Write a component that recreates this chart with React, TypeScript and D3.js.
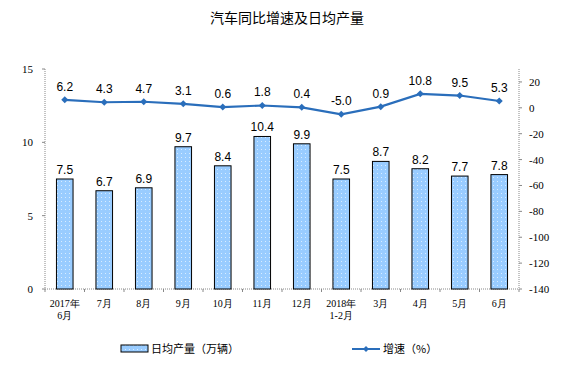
import React from "react";
import * as d3 from "d3";

const categories = ["2017年|6月", "7月", "8月", "9月", "10月", "11月", "12月", "2018年|1-2月", "3月", "4月", "5月", "6月"];
const dailyOutput = [7.5, 6.7, 6.9, 9.7, 8.4, 10.4, 9.9, 7.5, 8.7, 8.2, 7.7, 7.8];
const growth = [6.2, 4.3, 4.7, 3.1, 0.6, 1.8, 0.4, -5.0, 0.9, 10.8, 9.5, 5.3];
const leftTicks = [0, 5, 10, 15];
const rightTicks = [20, 0, -20, -40, -60, -80, -100, -120, -140];

const W = 575, H = 369;
const L = 45, R = 519, T = 69, B = 289;

export default function App() {
  const x = d3.scaleBand<number>().domain(d3.range(categories.length)).range([L, R]);
  const yL = d3.scaleLinear().domain([0, 15]).range([B, T]);
  const yR = d3.scaleLinear().domain([-140, 30]).range([B, T]);
  const bw = x.bandwidth() * 0.42;
  const cx = (i: number) => (x(i) as number) + x.bandwidth() / 2;
  const line = d3.line<number>().x((_, i) => cx(i)).y((d) => yR(d));
  const serif = "'Liberation Serif', 'Times New Roman', serif";
  const sans = "'Liberation Sans', Arial, sans-serif";
  const cjk = "'Noto Sans CJK SC', sans-serif";
  const lineColor = "#2a6ebb";
  const diamond = (px: number, py: number, s = 3.5) =>
    `M${px},${py - s}L${px + s},${py}L${px},${py + s}L${px - s},${py}Z`;

  return (
    <svg width={W} height={H} style={{ position: "absolute", left: 0, top: 0, background: "#fff" }}>
      <defs>
        <pattern id="dots" width="4" height="4" patternUnits="userSpaceOnUse">
          <rect width="4" height="4" fill="#99ccff" />
          <rect x="1" y="1" width="1" height="1" fill="#d8ecff" />
        </pattern>
      </defs>
      <text x={287} y={23} textAnchor="middle" fontFamily={cjk} fontSize={14} fill="#000">汽车同比增速及日均产量</text>

      {/* axes */}
      <line x1={L} x2={L} y1={T} y2={B} stroke="#888" strokeDasharray="1,1" />
      <line x1={R} x2={R} y1={T} y2={B} stroke="#888" strokeDasharray="1,1" />
      <line x1={L} x2={R} y1={B} y2={B} stroke="#888" strokeDasharray="1,1" />
      {leftTicks.map((t) => (
        <g key={"l" + t}>
          <line x1={L - 3} x2={L} y1={yL(t)} y2={yL(t)} stroke="#888" />
          <text x={33} y={yL(t) + 4} textAnchor="end" fontFamily={serif} fontSize={11}>{t}</text>
        </g>
      ))}
      {rightTicks.map((t) => (
        <g key={"r" + t}>
          <line x1={R} x2={R + 3} y1={yR(t)} y2={yR(t)} stroke="#888" />
          <text x={529} y={yR(t) + 4} textAnchor="start" fontFamily={serif} fontSize={11}>{t}</text>
        </g>
      ))}
      {d3.range(categories.length + 1).map((i) => {
        const xx = L + i * x.step();
        return <line key={"xt" + i} x1={xx} x2={xx} y1={B} y2={B + 3} stroke="#888" />;
      })}

      {/* bars */}
      {dailyOutput.map((v, i) => (
        <g key={"b" + i}>
          <rect x={cx(i) - bw / 2} y={yL(v)} width={bw} height={B - yL(v)} fill="url(#dots)" stroke="#000" strokeWidth={1} />
          <text x={cx(i)} y={yL(v) - 5} textAnchor="middle" fontFamily={sans} fontSize={12}>{v.toFixed(1)}</text>
        </g>
      ))}

      {/* line */}
      <path d={line(growth) || ""} fill="none" stroke={lineColor} strokeWidth={2.2} />
      {growth.map((v, i) => (
        <g key={"p" + i}>
          <path d={diamond(cx(i), yR(v))} fill={lineColor} />
          <text x={cx(i)} y={yR(v) - 9} textAnchor="middle" fontFamily={sans} fontSize={12}>{v.toFixed(1)}</text>
        </g>
      ))}

      {/* category labels */}
      {categories.map((c, i) => {
        const parts = c.split("|");
        return (
          <text key={"c" + i} textAnchor="middle" fontFamily={serif} fontSize={10}>
            {parts.map((p, j) => (
              <tspan key={j} x={cx(i)} y={307 + j * 12}>{p}</tspan>
            ))}
          </text>
        );
      })}

      {/* legend */}
      <rect x={121} y={345} width={27} height={7} fill="url(#dots)" stroke="#000" strokeWidth={1} />
      <text x={151} y={353} fontFamily={cjk} fontSize={11}>日均产量（万辆）</text>
      <line x1={352} x2={380} y1={349} y2={349} stroke={lineColor} strokeWidth={2} />
      <path d={diamond(366, 349, 3)} fill={lineColor} />
      <text x={383} y={353} fontFamily={cjk} fontSize={11}>增速（%）</text>
    </svg>
  );
}
